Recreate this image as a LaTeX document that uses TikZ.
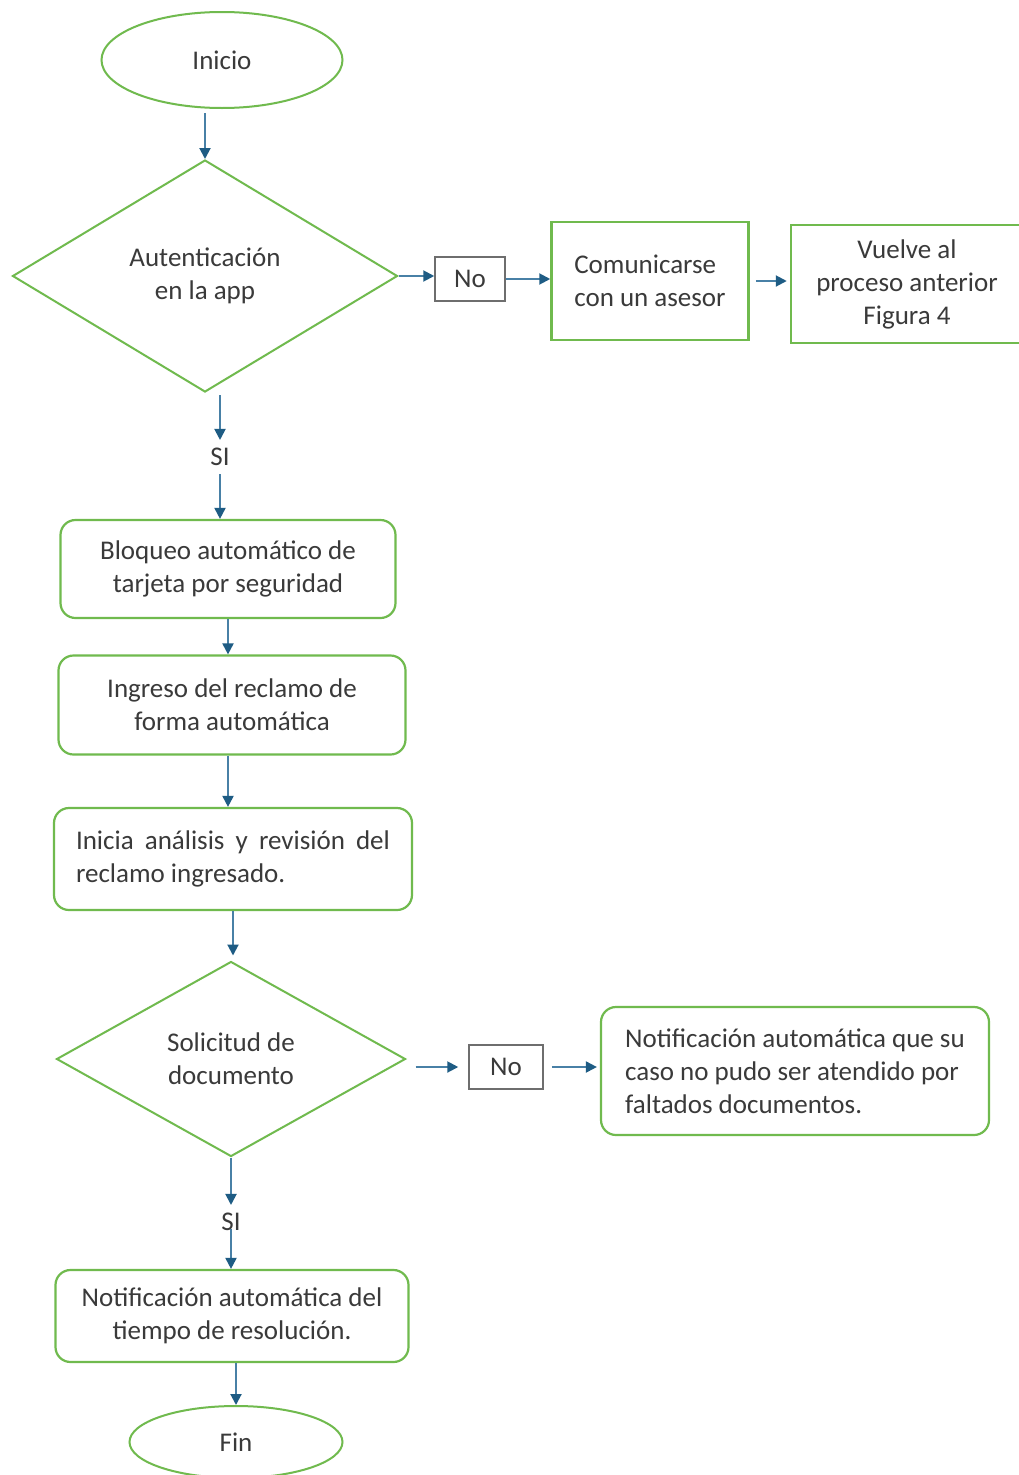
\documentclass[tikz,border=0pt]{standalone}
\usepackage{fontspec}
\setmainfont{Carlito}
\usetikzlibrary{shapes.geometric,arrows.meta}
\definecolor{grn}{RGB}{112,186,78}
\definecolor{arrc}{RGB}{30,92,132}
\definecolor{linec}{RGB}{72,128,166}
\definecolor{txt}{RGB}{58,58,58}
\definecolor{nob}{RGB}{110,110,110}
\begin{document}
\begin{tikzpicture}[x=1pt,y=-1pt,
  base/.style={font=\fontsize{27}{33}\selectfont, text=txt},
  term/.style={base, ellipse, draw=grn, line width=2pt, inner sep=0pt},
  dec/.style={base, diamond, draw=grn, line width=2pt, inner sep=0pt, align=center},
  proc/.style={base, rectangle, rounded corners=15pt, draw=grn, line width=2.2pt},
  sq/.style={base, rectangle, draw=grn, line width=2.5pt},
  nobox/.style={base, rectangle, draw=nob, line width=1.5pt, minimum height=44},
  lbl/.style={base, inner sep=8pt},
  arr/.style={draw=linec, line width=2pt, -{Triangle[length=11pt,width=11pt,color=arrc]}}
]
\useasboundingbox (0,0) rectangle (1018,1475);
\fill[white] (0,0) rectangle (1018,1475);

\node[term, minimum width=241, minimum height=96] (ini) at (222,60) {Inicio};
\node[dec, minimum width=385, minimum height=232] (d1) at (205,276) {Autenticación\\en la app};
\node[nobox, minimum width=70] (no1) at (470,279) {No};
\node[sq, minimum width=197, minimum height=118, align=flush left] (com) at (650,281) {Comunicarse\\con un asesor};
\node[sq, minimum width=232, minimum height=118, align=center] (vue) at (907,284) {Vuelve al\\proceso anterior\\Figura 4};
\node[lbl] (si1) at (220,457) {SI};
\node[proc, minimum width=335, minimum height=98, align=center] (blo) at (228,569) {Bloqueo automático de\\tarjeta por seguridad};
\node[proc, minimum width=347, minimum height=99, align=center] (ing) at (232,705) {Ingreso del reclamo de\\forma automática};
\node[proc, minimum width=358, minimum height=102, text width=314, align=flush left] (ana) at (233,859) {Inicia\hfill análisis\hfill y\hfill revisión\hfill del\\reclamo ingresado.};
\node[dec, minimum width=349, minimum height=195] (d2) at (231,1059) {Solicitud de\\documento};
\node[nobox, minimum width=74] (no2) at (506,1067) {No};
\node[proc, minimum width=388, minimum height=128, align=flush left] (not1) at (795,1071) {Notificación automática que su\\caso no pudo ser atendido por\\faltados documentos.};
\node[lbl] (si2) at (231,1222) {SI};
\node[proc, minimum width=353, minimum height=92, align=center] (not2) at (232,1316) {Notificación automática del\\tiempo de resolución.};
\node[term, minimum width=213, minimum height=72] (fin) at (236,1442) {Fin};

\draw[arr, shorten <=4pt] (d1.north |- ini.south) -- (d1.north);
\draw[arr] (d1.east) -- (d1.east -| no1.west);
\draw[arr] (no1.east) -- (no1.east -| com.west);
\draw[arr, shorten <=6pt, shorten >=3pt] (com.east) -- (com.east -| vue.west);
\draw[arr, shorten <=2pt] (si1.north |- d1.south) -- (si1.north);
\draw[arr] (si1.south) -- (si1.south |- blo.north);
\draw[arr] (blo.south) -- (blo.south |- ing.north);
\draw[arr] (blo.south |- ing.south) -- (blo.south |- ana.north);
\draw[arr, shorten >=5pt] (ana.south) -- (ana.south |- d2.north);
\draw[arr, shorten <=9pt, shorten >=10pt] (no2.west -| d2.east) -- (no2.west);
\draw[arr, shorten <=8pt, shorten >=3pt] (no2.east) -- (no2.east -| not1.west);
\draw[arr] (d2.south) -- (si2.north);
\draw[arr, shorten <=-10pt] (si2.south) -- (si2.south |- not2.north);
\draw[arr] (fin.north |- not2.south) -- (fin.north);
\end{tikzpicture}
\end{document}
